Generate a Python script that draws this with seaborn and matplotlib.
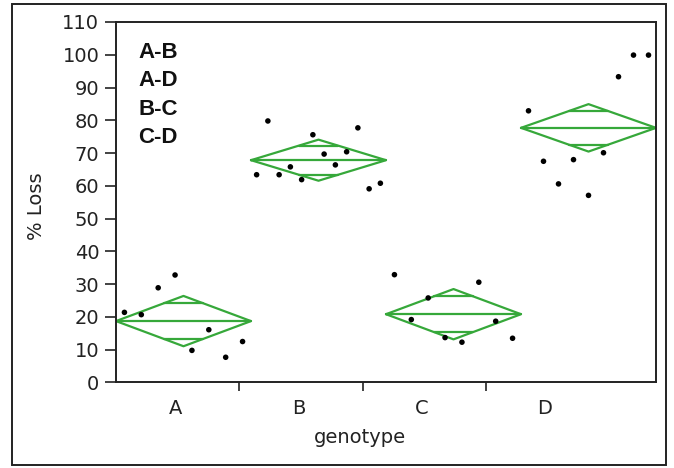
import numpy as np
import pandas as pd
import matplotlib
matplotlib.use("Agg")
import matplotlib.pyplot as plt
import seaborn as sns
from matplotlib.patches import Rectangle

# data (in plotting order within each group)
genotypes = ["A", "B", "C", "D"]
loss_a = [21.4, 20.7, 28.9, 32.8, 9.8, 16.1, 7.7, 12.5]
loss_b = [63.4, 79.8, 63.4, 65.8, 61.9, 75.6, 69.7, 66.4, 70.4, 77.7, 59.1, 60.8]
loss_c = [32.9, 19.2, 25.8, 13.7, 12.3, 30.6, 18.7, 13.5]
loss_d = [82.9, 67.5, 60.6, 68.0, 57.1, 70.1, 93.3, 99.9, 99.9]
comparisons = ["A-B", "A-D", "B-C", "C-D"]
y_ticks = list(range(0, 111, 10))

groups = [loss_a, loss_b, loss_c, loss_d]
green = "#36a83a"
dark = "#222222"

# long table, points spread evenly across each group's slot
rows = []
for i, (g, vals) in enumerate(zip(genotypes, groups)):
    n = len(vals)
    for k, v in enumerate(vals):
        rows.append({"genotype": g, "loss": v, "xpos": i + (k + 0.5) / n})
df = pd.DataFrame(rows)

# pooled std error for the means diamonds
resid = np.concatenate([np.array(v) - np.mean(v) for v in groups])
dof = len(resid) - len(groups)
s_pooled = np.sqrt(np.sum(resid ** 2) / dof)
t_crit = 2.0345  # t(0.975, 33)

sns.set_style("white")
plt.rcParams["font.family"] = ["DejaVu Sans"]

fig = plt.figure(figsize=(6.74, 4.68), dpi=100)
ax = fig.add_axes([0.1721, 0.1827, 0.8012, 0.7703])

# means diamonds
lw_d = 1.6
for i, vals in enumerate(groups):
    m = np.mean(vals)
    h = t_crit * s_pooled / np.sqrt(len(vals))
    x0, x1, xc = i, i + 1, i + 0.5
    ax.plot([x0, xc, x1, xc, x0], [m, m + h, m, m - h, m], color=green, lw=lw_d, zorder=2)
    ax.plot([x0, x1], [m, m], color=green, lw=lw_d, zorder=2)
    o = h / np.sqrt(2)
    w = (1 - 1 / np.sqrt(2)) * 0.5
    ax.plot([xc - w, xc + w], [m + o, m + o], color=green, lw=lw_d, zorder=2)
    ax.plot([xc - w, xc + w], [m - o, m - o], color=green, lw=lw_d, zorder=2)

sns.scatterplot(data=df, x="xpos", y="loss", color="black", s=16,
                edgecolor="none", ax=ax, zorder=3)

ax.set_xlim(0, 4)
ax.set_ylim(0, 110)
ax.set_yticks(y_ticks)
ax.tick_params(axis="y", direction="out", length=8, width=1.2, pad=4,
               labelsize=14, colors=dark, left=True)

# category separators (major) and category names (minor)
step = 0.913
ax.set_xticks([step * k for k in range(1, 4)])
ax.set_xticklabels([])
ax.set_xticks([step * (k + 0.48) for k in range(4)], minor=True)
ax.set_xticklabels(genotypes, minor=True)
ax.tick_params(axis="x", which="major", direction="out", length=6.5, width=1.2,
               colors=dark, bottom=True)
ax.tick_params(axis="x", which="minor", length=0, pad=12, labelsize=14, colors=dark)

ax.set_xlabel("genotype", fontsize=14, color=dark)
ax.set_ylabel("% Loss", fontsize=14, color=dark)
ax.xaxis.set_label_coords(0.452, -0.125)
ax.yaxis.set_label_coords(-0.13, 0.49)

for sp in ax.spines.values():
    sp.set_color(dark)
    sp.set_linewidth(1.4)

# connecting letters report
for j, txt in enumerate(comparisons):
    ax.text(0.041, 0.915 - 0.0785 * j, txt, transform=ax.transAxes,
            fontsize=16, fontweight="bold", family="Liberation Sans",
            va="center", ha="left", color="#111111")

# outer frame
fig.patches.append(Rectangle((0.0171, 0.0064), 0.9709, 0.9851, transform=fig.transFigure,
                             fill=False, edgecolor=dark, linewidth=1.4))

fig.savefig("out.png", dpi=100)
